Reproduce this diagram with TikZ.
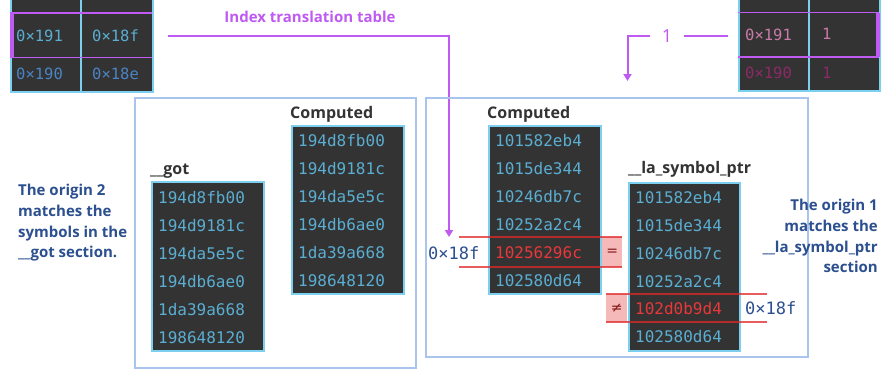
\documentclass[tikz,border=0pt]{standalone}
\usepackage{fontspec}
\setmainfont{Open Sans}
\newfontfamily\mono{DejaVu Sans Mono}
\newfontfamily\dvs{DejaVu Sans}
\usetikzlibrary{arrows.meta}
\definecolor{purp}{HTML}{BF5AF2}
\definecolor{tbl}{HTML}{333333}
\definecolor{tcy}{HTML}{7CCFEF}
\definecolor{txc}{HTML}{5AAED2}
\definecolor{txb}{HTML}{4A84C4}
\definecolor{nav}{HTML}{2B4F8F}
\definecolor{framec}{HTML}{A9C5EE}
\definecolor{redt}{HTML}{E8383A}
\definecolor{redl}{HTML}{E02828}
\definecolor{pinkf}{HTML}{F6B9B9}
\definecolor{pk1}{HTML}{C97AA8}
\definecolor{pk2}{HTML}{8C2A66}
\definecolor{lbl}{HTML}{333333}
\begin{document}
\begin{tikzpicture}[x=1pt,y=-1pt,
  tab/.style={draw=tcy, line width=1.5pt, fill=tbl, inner sep=0pt, anchor=north west},
  val/.style={font=\mono\fontsize{16}{18}\selectfont, text=txc, anchor=west, inner sep=0pt},
  sval/.style={font=\mono\fontsize{15.5}{18}\selectfont, anchor=west, inner sep=0pt},
  bigh/.style={font=\mono\fontsize{17}{19}\selectfont, text=nav, anchor=west, inner sep=0pt},
  lab/.style={font=\bfseries\fontsize{16}{18}\selectfont, text=lbl, anchor=base west, inner sep=0pt},
  note/.style={font=\bfseries\fontsize{15}{20.7}\selectfont, text=nav, inner sep=0pt},
  frm/.style={draw=framec, line width=2pt, inner sep=0pt, anchor=north west},
  pline/.style={draw=purp, line width=2pt},
  parr/.style={pline, -{Triangle[length=7pt,width=8pt]}},
  rline/.style={draw=redl, line width=1.5pt, opacity=0.75},
  cmpbox/.style={fill=pinkf, inner sep=0pt, anchor=north west, text=redl!60!black, font=\dvs\fontsize{14}{14}\selectfont}
]
\useasboundingbox (0,0) rectangle (881,368);
\fill[white] (0,0) rectangle (881,368);

% ---------- top-left index table ----------
\node[tab, minimum width=142pt, minimum height=96pt] (itab) at (10,-5) {};
\draw[tcy, line width=1.5pt] (81,-5) -- (81,91);
\draw[purp, line width=1.5pt] (10,13) -- (152,13);
\draw[purp, line width=1.5pt] (10,57.5) -- (152,57.5);
\fill[purp] (10,13) rectangle (13.5,57.5);
\node[sval, text=txc] (i11) at (16,35.5) {0×191};
\node[sval, text=txc] (i12) at (92,35.5) {0×18f};
\node[sval, text=txb] (i21) at (16,73.5) {0×190};
\node[sval, text=txb] (i22) at (92,73.5) {0×18e};

% ---------- top-right table ----------
\node[tab, minimum width=141pt, minimum height=96pt] (rtab) at (738,-6) {};
\draw[tcy, line width=1.5pt] (809,-6) -- (809,90);
\draw[purp, line width=1.5pt] (738,12.5) -- (879,12.5);
\draw[purp, line width=1.5pt] (738,57) -- (879,57);
\fill[purp] (876,12.5) rectangle (879.5,57);
\node[sval, text=pk1] (r11) at (745,35) {0×191};
\node[sval, text=pk1] (r12) at (822,34) {1};
\node[sval, text=pk2] (r21) at (745,72.5) {0×190};
\node[sval, text=pk2] (r22) at (822,72.5) {1};

% ---------- index label and arrows ----------
\node[font=\bfseries\fontsize{15}{17}\selectfont, text=purp] (ilab) at (310,17) {Index translation table};
\coordinate (ia) at (168,35.5);
\coordinate (ib) at (449,237);
\draw[parr] (ia) -| (ib);

\node[font=\fontsize{18}{20}\selectfont, text=purp] (one) at (667,36) {1};
\coordinate (ra) at (728,36);
\coordinate (rb) at (684,36);
\coordinate (rc) at (650,36);
\coordinate (rd) at (627.5,81);
\draw[pline] (ra) -- (rb);
\draw[parr] (rc) -| (rd);

% ---------- big frames ----------
\node[frm, minimum width=281pt, minimum height=270pt] (lframe) at (134,97) {};
\node[frm, minimum width=382pt, minimum height=259pt] (rframe) at (425,97) {};

% ---------- got ----------
\node[lab] (gotl) at (150,174.5) {\_\_got};
\node[tab, minimum width=112pt, minimum height=169pt] (got) at (151,181) {};
\node[val] (g1) at (158,197.5) {194d8fb00};
\node[val] (g2) at (158,225.5) {194d9181c};
\node[val] (g3) at (158,253.5) {194da5e5c};
\node[val] (g4) at (158,281.5) {194db6ae0};
\node[val] (g5) at (158,309.5) {1da39a668};
\node[val] (g6) at (158,337.5) {198648120};

% ---------- computed (left) ----------
\node[lab] (c1l) at (290,118) {Computed};
\node[tab, minimum width=112pt, minimum height=168pt] (comp1) at (291,125) {};
\node[val] (a1) at (298,140.5) {194d8fb00};
\node[val] (a2) at (298,168.5) {194d9181c};
\node[val] (a3) at (298,196.5) {194da5e5c};
\node[val] (a4) at (298,224.5) {194db6ae0};
\node[val] (a5) at (298,252.5) {1da39a668};
\node[val] (a6) at (298,280.5) {198648120};

% ---------- computed (right) ----------
\node[lab] (c2l) at (487,118) {Computed};
\node[tab, minimum width=112pt, minimum height=168pt] (comp2) at (488,125) {};
\node[val] (b1) at (495,140.5) {101582eb4};
\node[val] (b2) at (495,168.5) {1015de344};
\node[val] (b3) at (495,196.5) {10246db7c};
\node[val] (b4) at (495,224.5) {10252a2c4};
\node[val, text=redt] (b5) at (495,252.5) {10256296c};
\node[val] (b6) at (495,280.5) {102580d64};

% ---------- la_symbol_ptr ----------
\node[lab] (lal) at (628,173) {\_\_la\_symbol\_ptr};
\node[tab, minimum width=111pt, minimum height=168pt] (la) at (628,182) {};
\node[val] (s1) at (635,197.5) {101582eb4};
\node[val] (s2) at (635,225.5) {1015de344};
\node[val] (s3) at (635,253.5) {10246db7c};
\node[val] (s4) at (635,281.5) {10252a2c4};
\node[val, text=redt] (s5) at (635,308.5) {102d0b9d4};
\node[val] (s6) at (635,336.5) {102580d64};

% ---------- highlights ----------
\node[cmpbox, minimum width=20pt, minimum height=30pt] (eq) at (602,237) {=};
\draw[rline] (459,237) -- (622,237);
\draw[rline] (459,267) -- (622,267);
\node[bigh] (h1) at (428,253) {0×18f};

\node[cmpbox, minimum width=21pt, minimum height=28pt] (neq) at (606,294) {≠};
\draw[rline] (606,294) -- (767,294);
\draw[rline] (606,322) -- (767,322);
\node[bigh] (h2) at (745,308.5) {0×18f};

% ---------- notes ----------
\node[note, anchor=north west, align=left] (n2) at (18,184) {The origin 2\\matches the\\symbols in the\\\_\_got section.};
\node[note, anchor=north east, align=right] (n1) at (878,199) {The origin 1\\matches the\\\_\_la\_symbol\_ptr\\section};
\end{tikzpicture}
\end{document}
